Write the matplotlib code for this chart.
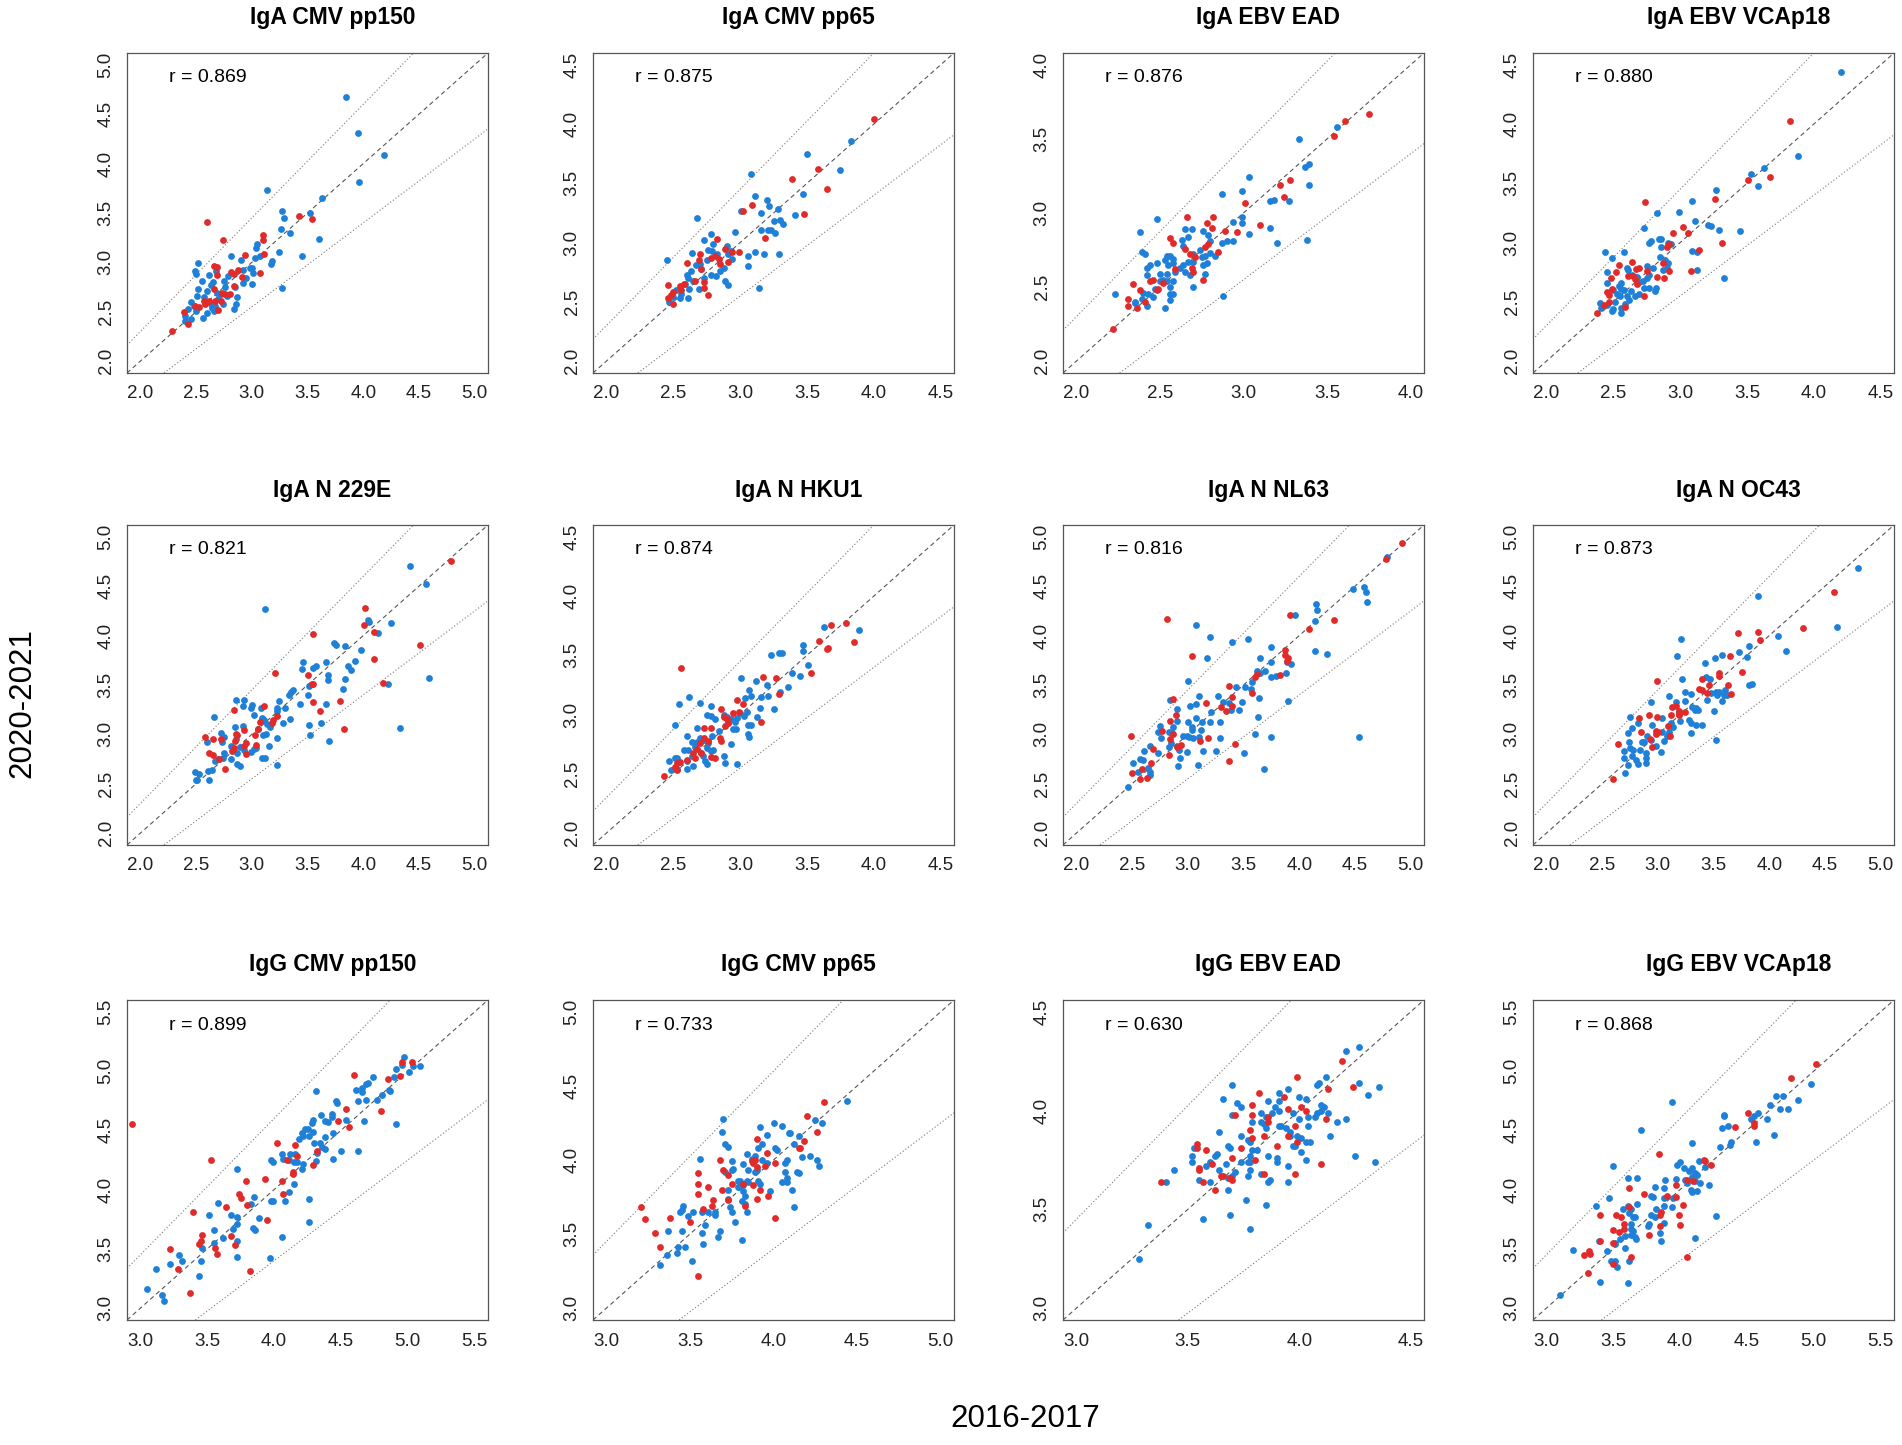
import numpy as np
import matplotlib
matplotlib.use("Agg")
import matplotlib.pyplot as plt

plt.rcParams['font.family'] = ['Liberation Sans', 'DejaVu Sans']

BLUE = '#1f80d8'
RED = '#e12a2a'

# panel titles, correlation labels, axis range (before R's 4% padding)
titles = ["IgA CMV pp150", "IgA CMV pp65", "IgA EBV EAD", "IgA EBV VCAp18",
          "IgA N 229E", "IgA N HKU1", "IgA N NL63", "IgA N OC43",
          "IgG CMV pp150", "IgG CMV pp65", "IgG EBV EAD", "IgG EBV VCAp18"]
r_values = [0.869, 0.875, 0.876, 0.880, 0.821, 0.874, 0.816, 0.873,
            0.899, 0.733, 0.630, 0.868]
axis_range = [(2.0, 5.0), (2.0, 4.5), (2.0, 4.0), (2.0, 4.5),
              (2.0, 5.0), (2.0, 4.5), (2.0, 5.0), (2.0, 5.0),
              (3.0, 5.5), (3.0, 5.0), (3.0, 4.5), (3.0, 5.5)]

# ---- IgA CMV pp150
p01_blue_x = [3.85, 3.95, 4.19, 3.96, 3.63, 3.14, 3.27, 3.29, 3.52, 3.34,
              3.26, 3.60, 3.24, 3.18, 3.17, 3.45, 3.27, 3.05, 3.04, 3.07,
              3.03, 3.00, 3.01, 2.98, 3.00, 2.92, 2.95, 2.90, 2.81, 2.92,
              2.85, 2.87, 2.86, 2.84, 2.79, 2.75, 2.52, 2.49, 2.50, 2.55,
              2.52, 2.62, 2.63, 2.60, 2.57, 2.51, 2.45, 2.48, 2.43, 2.40,
              2.40, 2.45, 2.50, 2.56, 2.60, 2.64, 2.67, 2.70, 2.72, 2.76,
              2.68, 2.65, 2.74, 2.66, 2.63, 2.78, 2.69]
p01_blue_y = [4.67, 4.31, 4.09, 3.81, 3.65, 3.73, 3.52, 3.45, 3.50, 3.30,
              3.34, 3.24, 3.11, 3.01, 2.98, 3.06, 2.74, 3.19, 3.15, 3.06,
              3.04, 2.94, 2.89, 2.94, 2.78, 2.92, 2.84, 3.02, 3.06, 2.79,
              2.75, 2.65, 2.58, 2.53, 2.86, 2.81, 2.99, 2.91, 2.88, 2.81,
              2.73, 2.87, 2.77, 2.71, 2.65, 2.66, 2.60, 2.56, 2.53, 2.46,
              2.41, 2.43, 2.51, 2.44, 2.49, 2.54, 2.56, 2.63, 2.68, 2.75,
              2.91, 2.80, 2.58, 2.51, 2.58, 2.66, 2.69]
p01_red_x = [2.28, 2.39, 2.43, 2.60, 2.74, 2.66, 2.69, 2.69, 2.66, 2.70,
             2.73, 2.72, 2.67, 2.57, 2.53, 2.49, 2.58, 2.62, 2.81, 2.84,
             2.88, 2.91, 2.80, 2.84, 2.94, 3.07, 3.10, 3.10, 3.11, 3.42,
             3.54, 2.76]
p01_red_y = [2.31, 2.50, 2.38, 3.41, 3.23, 2.96, 2.95, 2.87, 2.73, 2.52,
             2.69, 2.61, 2.61, 2.61, 2.55, 2.56, 2.58, 2.61, 2.90, 2.88,
             2.92, 2.85, 2.68, 2.76, 3.07, 2.89, 3.28, 3.23, 3.08, 3.47,
             3.44, 2.68]

# ---- IgA CMV pp65
p02_blue_x = [3.83, 3.50, 3.75, 3.47, 3.08, 3.11, 3.20, 3.22, 3.28, 3.16,
              3.41, 3.30, 3.32, 3.25, 3.23, 3.21, 3.16, 3.26, 3.01, 2.96,
              3.11, 3.18, 3.29, 3.06, 3.06, 3.14, 2.68, 2.45, 2.73, 2.78,
              2.80, 2.76, 2.79, 2.83, 2.90, 2.93, 2.94, 2.91, 2.88, 2.85,
              2.89, 2.91, 2.82, 2.78, 2.75, 2.71, 2.67, 2.64, 2.63, 2.60,
              2.61, 2.65, 2.69, 2.62, 2.61, 2.56, 2.55, 2.52, 2.50, 2.47,
              2.59, 2.73, 2.70]
p02_blue_y = [3.86, 3.75, 3.61, 3.41, 3.58, 3.39, 3.36, 3.31, 3.28, 3.25,
              3.23, 3.19, 3.16, 3.18, 3.11, 3.11, 3.11, 3.08, 3.27, 3.09,
              2.92, 2.90, 2.90, 2.89, 2.80, 2.62, 3.21, 2.85, 3.02, 3.07,
              2.99, 2.94, 2.93, 2.90, 2.97, 2.93, 2.86, 2.90, 2.79, 2.76,
              2.68, 2.64, 2.72, 2.73, 2.85, 2.78, 2.81, 2.91, 2.76, 2.73,
              2.70, 2.68, 2.61, 2.61, 2.53, 2.57, 2.53, 2.60, 2.54, 2.50,
              2.65, 2.70, 2.82]
p02_red_x = [4.00, 3.58, 3.39, 3.65, 3.48, 3.09, 3.02, 3.19, 2.99, 2.94,
             2.89, 2.83, 2.81, 2.78, 2.84, 2.91, 2.85, 2.70, 2.69, 2.60,
             2.71, 2.66, 2.73, 2.73, 2.76, 2.58, 2.55, 2.56, 2.50, 2.46,
             2.46, 2.48, 2.50]
p02_red_y = [4.04, 3.62, 3.54, 3.45, 3.24, 3.32, 3.27, 3.04, 2.92, 2.92,
             2.95, 3.03, 2.89, 2.87, 2.86, 2.84, 2.82, 2.90, 2.85, 2.83,
             2.78, 2.68, 2.67, 2.62, 2.56, 2.65, 2.63, 2.60, 2.58, 2.64,
             2.53, 2.56, 2.48]

# ---- IgA EBV EAD
p03_blue_x = [3.56, 3.33, 3.37, 3.39, 3.39, 3.38, 3.03, 2.99, 2.87, 3.27,
              3.16, 3.18, 3.16, 3.20, 2.99, 2.99, 2.94, 2.94, 2.90, 2.87,
              3.03, 2.88, 2.48, 2.38, 2.39, 2.41, 2.65, 2.69, 2.67, 2.63,
              2.64, 2.76, 2.79, 2.80, 2.74, 2.77, 2.75, 2.80, 2.83, 2.78,
              2.76, 2.77, 2.70, 2.70, 2.67, 2.64, 2.62, 2.65, 2.68, 2.70,
              2.59, 2.58, 2.56, 2.54, 2.53, 2.55, 2.58, 2.48, 2.44, 2.42,
              2.42, 2.40, 2.39, 2.43, 2.42, 2.35, 2.35, 2.46, 2.47, 2.50,
              2.52, 2.54, 2.54, 2.58, 2.56, 2.56, 2.58, 2.56, 2.53, 2.23,
              2.50]
p03_blue_y = [3.58, 3.50, 3.31, 3.33, 3.19, 2.82, 3.24, 3.15, 3.13, 3.08,
              3.08, 3.09, 2.90, 2.80, 2.97, 2.93, 2.94, 2.81, 2.81, 2.80,
              2.86, 2.44, 2.96, 2.87, 2.74, 2.72, 2.89, 2.89, 2.84, 2.82,
              2.78, 2.88, 2.85, 2.81, 2.75, 2.71, 2.70, 2.73, 2.71, 2.66,
              2.65, 2.59, 2.67, 2.72, 2.67, 2.65, 2.63, 2.60, 2.58, 2.50,
              2.60, 2.69, 2.71, 2.71, 2.68, 2.65, 2.66, 2.66, 2.65, 2.63,
              2.58, 2.46, 2.42, 2.45, 2.37, 2.40, 2.39, 2.43, 2.49, 2.59,
              2.55, 2.59, 2.54, 2.54, 2.50, 2.45, 2.45, 2.41, 2.36, 2.45,
              2.54]
p03_red_x = [2.22, 3.75, 3.61, 3.54, 3.28, 3.22, 3.24, 3.01, 3.10, 2.89,
             2.96, 2.82, 2.78, 2.81, 2.66, 2.56, 2.58, 2.65, 2.71, 2.68,
             2.79, 2.77, 2.85, 2.59, 2.69, 2.70, 2.76, 2.34, 2.38, 2.31,
             2.31, 2.36, 2.41, 2.44, 2.46, 2.48, 2.49, 2.52]
p03_red_y = [2.22, 3.67, 3.62, 3.52, 3.22, 3.19, 3.11, 3.07, 2.92, 2.88,
             2.87, 2.97, 2.93, 2.90, 2.97, 2.83, 2.80, 2.76, 2.70, 2.72,
             2.79, 2.77, 2.74, 2.62, 2.63, 2.60, 2.55, 2.52, 2.48, 2.42,
             2.37, 2.36, 2.40, 2.54, 2.55, 2.48, 2.49, 2.53]

# ---- IgA EBV VCAp18
p04_blue_x = [4.20, 3.88, 3.63, 3.53, 3.58, 3.27, 3.09, 3.11, 2.99, 2.83,
              2.73, 3.21, 3.23, 3.29, 3.45, 3.33, 3.09, 3.13, 3.13, 2.84,
              2.86, 2.77, 2.78, 2.86, 2.91, 2.93, 2.85, 2.89, 2.91, 2.90,
              2.87, 2.80, 2.75, 2.77, 2.75, 2.72, 2.73, 2.77, 2.82, 2.81,
              2.44, 2.58, 2.49, 2.45, 2.45, 2.56, 2.61, 2.60, 2.64, 2.68,
              2.69, 2.56, 2.54, 2.50, 2.53, 2.55, 2.58, 2.60, 2.63, 2.66,
              2.62, 2.59, 2.56, 2.51, 2.49, 2.50, 2.56, 2.40, 2.41, 2.45,
              2.69]
p04_blue_y = [4.44, 3.73, 3.63, 3.58, 3.48, 3.44, 3.35, 3.18, 3.26, 3.25,
              3.12, 3.15, 3.14, 3.11, 3.10, 2.70, 2.93, 2.92, 2.77, 3.03,
              3.03, 3.00, 3.01, 2.96, 3.00, 2.99, 2.88, 2.85, 2.83, 2.79,
              2.77, 2.79, 2.80, 2.73, 2.70, 2.68, 2.62, 2.62, 2.62, 2.59,
              2.92, 2.92, 2.87, 2.75, 2.66, 2.66, 2.77, 2.79, 2.73, 2.71,
              2.67, 2.61, 2.63, 2.60, 2.57, 2.55, 2.60, 2.55, 2.59, 2.55,
              2.52, 2.48, 2.45, 2.50, 2.42, 2.44, 2.41, 2.49, 2.45, 2.47,
              2.57]
p04_red_x = [3.82, 3.67, 3.51, 3.26, 2.74, 3.02, 2.95, 3.06, 3.31, 3.14,
             2.92, 2.90, 2.87, 2.92, 2.88, 2.83, 3.08, 2.64, 2.54, 2.69,
             2.67, 2.75, 2.65, 2.66, 2.68, 2.73, 2.61, 2.52, 2.48, 2.49,
             2.45, 2.47, 2.59, 2.47, 2.43, 2.38]
p04_red_y = [4.03, 3.55, 3.53, 3.37, 3.34, 3.13, 3.08, 3.08, 3.00, 2.94,
             2.99, 2.96, 2.83, 2.76, 2.70, 2.71, 2.76, 2.84, 2.81, 2.79,
             2.78, 2.76, 2.72, 2.69, 2.65, 2.55, 2.72, 2.75, 2.70, 2.61,
             2.58, 2.56, 2.46, 2.50, 2.47, 2.41]

# ---- IgA N 229E
p05_blue_x = [4.42, 4.56, 3.12, 4.25, 4.13, 4.04, 4.05, 4.59, 4.22, 4.33,
              3.74, 3.76, 3.84, 3.98, 3.93, 3.86, 3.89, 3.84, 3.82, 3.67,
              3.68, 3.68, 3.46, 3.45, 3.55, 3.58, 3.51, 3.50, 3.67, 3.62,
              3.69, 3.52, 3.51, 3.43, 3.37, 3.35, 3.33, 3.24, 3.23, 3.30,
              3.28, 3.34, 3.23, 3.23, 3.23, 3.00, 2.99, 3.02, 3.08, 3.09,
              3.11, 3.14, 3.16, 3.13, 3.10, 3.06, 3.15, 3.09, 3.12, 3.02,
              2.99, 3.04, 2.93, 2.92, 2.93, 2.86, 2.92, 2.85, 2.86, 2.81,
              2.87, 2.87, 2.89, 2.81, 2.75, 2.73, 2.75, 2.72, 2.66, 2.60,
              2.74, 2.70, 2.67, 2.64, 2.61, 2.62, 2.53, 2.49, 2.50, 2.51,
              2.89]
p05_blue_y = [4.70, 4.52, 4.27, 4.13, 4.03, 4.16, 4.14, 3.57, 3.51, 3.06,
              3.93, 3.90, 3.89, 3.85, 3.74, 3.69, 3.65, 3.56, 3.46, 3.73,
              3.60, 3.55, 3.73, 3.66, 3.67, 3.69, 3.49, 3.40, 3.31, 3.12,
              2.93, 2.99, 3.10, 3.31, 3.45, 3.43, 3.40, 3.34, 3.27, 3.27,
              3.12, 3.16, 3.24, 2.96, 2.69, 3.30, 3.27, 3.20, 3.27, 3.17,
              3.15, 3.11, 3.07, 3.00, 2.99, 3.05, 2.88, 2.76, 2.76, 2.85,
              2.82, 2.86, 2.84, 3.08, 3.35, 3.35, 3.29, 3.07, 2.95, 2.88,
              2.81, 2.70, 2.68, 2.75, 2.81, 2.92, 2.97, 3.01, 3.18, 2.92,
              2.76, 2.75, 2.73, 2.64, 2.63, 2.54, 2.60, 2.62, 2.54, 2.54,
              2.87]
p05_red_x = [4.79, 4.02, 4.01, 4.10, 4.10, 3.55, 4.51, 4.18, 3.83, 3.79,
             3.61, 3.55, 3.55, 3.54, 3.50, 3.21, 3.23, 3.19, 3.18, 3.11,
             3.07, 3.06, 3.03, 3.04, 2.95, 2.93, 2.95, 2.93, 2.84, 2.86,
             2.87, 2.85, 2.84, 2.82, 2.76, 2.72, 2.71, 2.65, 2.65, 2.62,
             2.58]
p05_red_y = [4.76, 4.28, 4.11, 4.04, 3.76, 4.02, 3.90, 3.52, 3.05, 3.34,
             3.24, 3.33, 3.51, 3.51, 3.60, 3.62, 3.19, 3.15, 3.12, 3.29,
             3.13, 3.05, 2.99, 2.89, 2.91, 2.88, 2.80, 3.04, 3.25, 3.00,
             2.99, 2.93, 2.86, 2.83, 2.65, 2.95, 2.75, 2.95, 2.79, 2.81,
             2.97]

# ---- IgA N HKU1
p06_blue_x = [3.89, 3.63, 3.47, 3.47, 3.51, 3.45, 3.39, 3.23, 3.29, 3.31,
              3.36, 3.30, 3.25, 3.20, 3.12, 3.21, 3.16, 3.15, 3.13, 3.07,
              3.08, 3.04, 3.01, 3.05, 3.03, 3.00, 3.06, 3.08, 3.06, 3.07,
              2.98, 2.96, 2.97, 2.95, 2.93, 2.98, 2.88, 2.90, 2.93, 2.91,
              2.84, 2.81, 2.78, 2.75, 2.78, 2.79, 2.80, 2.78, 2.75, 2.76,
              2.73, 2.70, 2.68, 2.66, 2.71, 2.72, 2.74, 2.75, 2.88, 2.89,
              2.68, 2.70, 2.62, 2.54, 2.51, 2.60, 2.64, 2.58, 2.61, 2.64,
              2.60, 2.60, 2.65, 2.53, 2.51, 2.47, 2.48, 2.53]
p06_blue_y = [3.71, 3.74, 3.59, 3.54, 3.42, 3.33, 3.35, 3.50, 3.52, 3.52,
              3.23, 3.19, 3.05, 3.25, 3.28, 3.16, 3.15, 3.06, 2.98, 3.21,
              3.16, 3.14, 3.31, 3.02, 2.99, 3.01, 2.91, 2.91, 2.84, 2.81,
              2.97, 2.94, 2.88, 2.88, 2.75, 2.58, 3.00, 2.98, 2.96, 2.93,
              2.86, 2.96, 3.07, 3.00, 2.99, 2.82, 2.70, 2.69, 2.72, 2.76,
              2.79, 2.80, 2.77, 2.73, 2.68, 2.65, 2.61, 2.58, 2.65, 2.59,
              2.89, 3.10, 3.15, 3.09, 2.91, 2.82, 2.77, 2.70, 2.70, 2.65,
              2.61, 2.54, 2.57, 2.63, 2.63, 2.61, 2.53, 2.54]
p06_red_x = [3.68, 3.79, 3.85, 3.59, 3.65, 3.66, 3.53, 3.17, 3.27, 3.29,
             3.16, 2.98, 3.02, 2.99, 2.95, 2.86, 2.88, 2.90, 2.91, 2.89,
             2.56, 2.73, 2.78, 2.86, 2.85, 2.76, 2.73, 2.70, 2.68, 2.65,
             2.66, 2.71, 2.78, 2.81, 2.60, 2.55, 2.53, 2.51, 2.53, 2.43]
p06_red_y = [3.76, 3.77, 3.61, 3.62, 3.55, 3.56, 3.35, 3.32, 3.31, 3.17,
             2.94, 3.12, 3.09, 3.02, 3.01, 3.05, 2.98, 2.96, 2.93, 2.90,
             3.39, 2.89, 2.89, 2.78, 2.80, 2.78, 2.80, 2.76, 2.71, 2.68,
             2.63, 2.68, 2.64, 2.63, 2.62, 2.60, 2.59, 2.56, 2.53, 2.48]

# ---- IgA N NL63
p07_blue_x = [3.96, 4.15, 4.16, 4.14, 4.48, 4.58, 4.60, 4.61, 4.79, 4.14,
              4.25, 4.54, 3.07, 3.20, 3.40, 3.54, 3.75, 3.65, 3.17, 3.00,
              3.75, 3.89, 3.93, 3.88, 3.69, 3.62, 3.65, 3.75, 3.79, 3.58,
              3.57, 3.51, 3.43, 3.46, 3.49, 3.64, 3.63, 3.60, 3.75, 3.68,
              3.50, 3.90, 3.37, 3.32, 3.27, 3.39, 3.21, 3.20, 3.29, 3.29,
              3.25, 3.14, 3.09, 3.10, 3.07, 3.02, 3.07, 3.00, 3.04, 3.04,
              2.99, 2.96, 3.01, 3.05, 3.10, 3.13, 3.12, 2.99, 2.84, 2.90,
              2.90, 2.87, 2.86, 2.83, 2.85, 2.83, 2.90, 2.93, 2.91, 2.92,
              2.75, 2.76, 2.73, 2.73, 2.66, 2.61, 2.57, 2.60, 2.51, 2.55,
              2.64, 2.66, 2.66, 2.46]
p07_blue_y = [4.21, 4.32, 4.26, 4.15, 4.47, 4.49, 4.44, 4.34, 4.80, 3.84,
              3.81, 2.97, 4.11, 3.99, 3.94, 3.97, 3.88, 3.77, 3.77, 3.54,
              3.73, 3.73, 3.71, 3.62, 3.64, 3.64, 3.62, 3.58, 3.59, 3.53,
              3.46, 3.48, 3.48, 3.25, 3.33, 3.37, 3.18, 3.00, 2.97, 2.65,
              2.81, 3.34, 3.32, 3.33, 3.39, 3.25, 3.23, 3.13, 3.13, 2.96,
              2.83, 2.83, 2.69, 3.39, 3.31, 3.29, 3.17, 3.13, 3.07, 3.04,
              2.98, 2.98, 2.97, 2.96, 2.97, 3.13, 3.04, 2.82, 3.35, 3.26,
              3.14, 3.07, 3.01, 3.02, 2.91, 2.87, 2.88, 2.76, 2.68, 2.84,
              3.08, 2.96, 3.02, 2.81, 2.88, 2.83, 2.75, 2.74, 2.71, 2.62,
              2.66, 2.62, 2.59, 2.47]
p07_red_x = [4.92, 4.78, 3.92, 4.31, 4.09, 2.81, 3.04, 3.87, 3.87, 3.90,
             3.89, 3.83, 3.62, 3.60, 3.58, 3.37, 3.40, 3.30, 3.34, 3.40,
             3.16, 3.18, 3.11, 3.42, 3.37, 2.87, 2.89, 2.84, 2.87, 2.84,
             2.94, 2.90, 2.83, 2.69, 2.77, 2.67, 2.49, 2.50, 2.59, 2.57,
             2.63]
p07_red_y = [4.94, 4.78, 4.21, 4.16, 4.07, 4.17, 3.79, 3.85, 3.80, 3.77,
             3.74, 3.60, 3.61, 3.58, 3.42, 3.49, 3.38, 3.28, 3.24, 3.29,
             3.32, 2.96, 2.93, 2.90, 2.73, 3.36, 3.20, 3.14, 3.00, 2.95,
             2.89, 2.87, 2.79, 2.85, 3.03, 2.71, 2.98, 2.61, 2.65, 2.55,
             2.56]

# ---- IgA N OC43
p08_blue_x = [4.80, 3.90, 4.61, 4.08, 4.15, 3.21, 3.17, 3.82, 3.73, 3.80,
              3.51, 3.58, 3.42, 3.82, 3.85, 3.43, 3.47, 3.48, 3.52, 3.55,
              3.59, 3.60, 3.62, 3.58, 3.53, 3.44, 3.50, 3.52, 3.22, 3.24,
              3.24, 3.30, 3.34, 3.31, 3.36, 3.33, 3.28, 3.30, 3.34, 3.40,
              3.30, 3.16, 3.19, 3.20, 3.10, 3.12, 3.14, 3.10, 3.08, 3.04,
              3.06, 3.03, 2.94, 3.04, 2.95, 2.90, 2.86, 2.88, 2.89, 2.89,
              2.89, 2.94, 2.98, 2.75, 2.82, 2.77, 2.73, 2.74, 2.75, 2.78,
              2.84, 2.70, 2.70, 2.77, 2.80, 2.82, 2.73, 2.71]
p08_blue_y = [4.68, 4.40, 4.09, 4.00, 3.84, 3.97, 3.79, 3.89, 3.83, 3.78,
              3.77, 3.80, 3.72, 3.50, 3.51, 3.58, 3.56, 3.42, 3.43, 3.43,
              3.40, 3.45, 3.40, 3.34, 3.40, 3.35, 3.24, 2.94, 3.56, 3.43,
              3.34, 3.41, 3.27, 3.28, 3.25, 3.25, 3.15, 3.12, 3.09, 3.09,
              3.01, 3.33, 3.23, 3.14, 3.39, 3.12, 3.07, 3.02, 2.98, 3.02,
              2.93, 2.82, 3.33, 3.17, 3.09, 2.98, 2.92, 2.92, 2.81, 2.76,
              2.71, 2.94, 2.88, 3.18, 3.12, 3.06, 3.01, 2.92, 2.86, 2.84,
              2.84, 2.83, 2.76, 2.78, 2.74, 2.70, 2.69, 2.61]
p08_red_x = [4.58, 4.30, 3.90, 3.72, 3.92, 3.65, 3.76, 3.55, 3.55, 3.63,
             3.66, 3.46, 3.44, 3.40, 3.40, 3.37, 2.99, 3.16, 3.13, 3.19,
             3.24, 3.19, 3.12, 3.19, 3.09, 3.11, 2.99, 2.92, 2.83, 2.98,
             3.00, 2.98, 2.93, 2.95, 2.85, 2.64, 2.60]
p08_red_y = [4.44, 4.08, 4.04, 4.03, 3.96, 3.79, 3.63, 3.62, 3.59, 3.50,
             3.41, 3.50, 3.42, 3.56, 3.45, 3.46, 3.54, 3.29, 3.28, 3.24,
             3.23, 3.21, 3.20, 3.20, 3.08, 2.98, 3.18, 3.20, 3.17, 3.03,
             3.02, 3.00, 2.95, 2.87, 3.02, 2.90, 2.55]

# ---- IgG CMV pp150
p09_blue_x = [4.97, 4.96, 4.91, 5.09, 5.04, 5.01, 4.90, 4.74, 4.70, 4.69,
              4.66, 4.66, 4.69, 4.63, 4.61, 4.77, 4.81, 4.86, 4.87, 4.31,
              4.46, 4.47, 4.91, 4.67, 4.54, 4.63, 4.50, 4.43, 4.43, 4.38,
              4.40, 4.35, 4.29, 4.28, 4.29, 4.25, 4.23, 4.21, 4.26, 4.30,
              4.34, 4.36, 4.38, 4.44, 4.44, 4.38, 4.31, 4.32, 4.22, 4.19,
              4.16, 4.12, 4.11, 4.15, 4.17, 4.22, 4.21, 4.15, 4.11, 4.06,
              4.07, 3.98, 3.99, 4.08, 3.98, 3.99, 4.26, 4.26, 4.06, 3.97,
              3.85, 3.83, 3.89, 3.84, 3.86, 3.72, 3.68, 3.72, 3.72, 3.69,
              3.72, 3.72, 3.62, 3.58, 3.51, 3.55, 3.55, 3.46, 3.45, 3.44,
              3.29, 3.31, 3.22, 3.12, 3.05, 3.16, 3.18]
p09_blue_y = [5.12, 5.05, 5.02, 5.04, 5.04, 4.99, 4.95, 4.95, 4.90, 4.89,
              4.86, 4.82, 4.76, 4.75, 4.84, 4.76, 4.80, 4.84, 4.83, 4.83,
              4.75, 4.73, 4.55, 4.58, 4.59, 4.33, 4.33, 4.64, 4.61, 4.58,
              4.57, 4.63, 4.59, 4.56, 4.49, 4.51, 4.51, 4.48, 4.45, 4.39,
              4.39, 4.36, 4.34, 4.26, 4.48, 4.44, 4.24, 4.31, 4.45, 4.43,
              4.30, 4.30, 4.25, 4.23, 4.23, 4.22, 4.17, 4.05, 3.98, 4.30,
              4.26, 4.25, 4.23, 3.90, 3.90, 3.90, 3.92, 3.73, 3.60, 3.42,
              3.94, 3.88, 3.76, 3.68, 3.66, 4.17, 3.79, 3.77, 3.71, 3.67,
              3.57, 3.43, 3.59, 3.89, 3.79, 3.66, 3.55, 3.51, 3.40, 3.27,
              3.45, 3.40, 3.37, 3.33, 3.16, 3.11, 3.06]
p09_red_x = [2.94, 5.03, 4.96, 4.94, 4.85, 4.60, 4.54, 4.56, 4.80, 4.48,
             4.16, 4.02, 4.10, 4.17, 4.14, 4.14, 4.29, 4.32, 4.06, 3.93,
             4.07, 3.79, 3.80, 3.74, 3.75, 3.64, 3.95, 3.68, 3.71, 3.82,
             3.53, 3.39, 3.46, 3.45, 3.44, 3.56, 3.57, 3.22, 3.28, 3.37]
p09_red_y = [4.55, 5.08, 5.08, 4.96, 4.93, 4.97, 4.68, 4.53, 4.66, 4.58,
             4.38, 4.39, 4.25, 4.28, 4.13, 4.15, 4.21, 4.33, 4.07, 4.09,
             3.96, 4.07, 3.87, 3.96, 3.93, 3.85, 3.74, 3.61, 3.53, 3.31,
             4.25, 3.81, 3.62, 3.57, 3.54, 3.51, 3.46, 3.50, 3.33, 3.13]

# ---- IgG CMV pp65
p10_blue_x = [4.44, 4.25, 4.29, 3.70, 3.69, 3.71, 3.73, 3.56, 4.00, 4.05,
              4.09, 4.10, 4.15, 3.92, 3.96, 3.93, 3.91, 4.01, 4.02, 4.12,
              4.22, 4.17, 4.26, 4.27, 4.08, 4.07, 4.07, 4.08, 4.05, 4.08,
              4.14, 4.15, 4.11, 4.12, 3.98, 3.91, 3.90, 3.84, 3.87, 3.89,
              3.93, 3.96, 3.82, 3.85, 3.89, 3.92, 3.79, 3.80, 3.82, 3.84,
              3.85, 3.79, 3.82, 3.83, 3.81, 3.83, 3.84, 3.81, 3.77, 3.76,
              3.75, 3.75, 3.71, 3.73, 3.73, 3.74, 3.75, 3.68, 3.67, 3.65,
              3.65, 3.61, 3.59, 3.58, 3.57, 3.57, 3.46, 3.45, 3.44, 3.49,
              3.52, 3.45, 3.37, 3.47, 3.43, 3.42, 3.51, 3.36, 3.32]
p10_blue_y = [4.40, 4.27, 4.25, 4.28, 4.19, 4.11, 4.09, 4.01, 4.25, 4.23,
              4.18, 4.18, 4.16, 4.22, 4.17, 4.11, 4.08, 4.08, 4.07, 4.11,
              4.03, 4.02, 4.00, 3.96, 4.00, 3.98, 3.92, 3.88, 3.85, 3.85,
              3.92, 3.91, 3.80, 3.68, 3.79, 3.86, 3.93, 4.04, 4.01, 4.03,
              4.00, 3.98, 3.97, 3.93, 3.92, 3.84, 3.86, 3.86, 3.83, 3.86,
              3.85, 3.82, 3.79, 3.76, 3.72, 3.70, 3.65, 3.46, 3.58, 3.94,
              3.99, 3.93, 3.92, 3.80, 3.74, 3.68, 3.65, 3.52, 3.48, 3.65,
              3.63, 3.65, 3.56, 3.43, 3.65, 3.51, 3.69, 3.66, 3.65, 3.62,
              3.65, 3.52, 3.52, 3.41, 3.41, 3.37, 3.32, 3.36, 3.29]
p10_red_x = [4.30, 4.20, 4.26, 4.18, 4.15, 4.16, 3.90, 3.96, 3.87, 3.88,
             3.89, 3.90, 3.95, 4.01, 3.68, 3.70, 3.73, 3.75, 3.82, 3.88,
             3.92, 3.97, 3.90, 3.83, 4.01, 3.69, 3.73, 3.55, 3.55, 3.61,
             3.55, 3.64, 3.63, 3.58, 3.50, 3.38, 3.21, 3.23, 3.29, 3.32,
             3.55]
p10_red_y = [4.39, 4.30, 4.19, 4.13, 4.08, 4.08, 4.14, 4.05, 3.99, 3.98,
             4.00, 3.95, 3.96, 3.98, 4.00, 3.93, 3.90, 3.84, 3.84, 3.83,
             3.80, 3.76, 3.74, 3.69, 3.61, 3.80, 3.73, 3.91, 3.84, 3.82,
             3.77, 3.73, 3.69, 3.67, 3.58, 3.61, 3.68, 3.60, 3.51, 3.41,
             3.22]

# ---- IgG EBV EAD
p11_blue_x = [4.21, 4.27, 4.36, 4.27, 4.31, 4.12, 4.09, 4.08, 4.10, 4.11,
              4.10, 4.08, 4.13, 4.17, 4.14, 4.25, 4.34, 3.95, 3.91, 4.00,
              4.03, 3.91, 3.86, 3.89, 3.91, 3.88, 3.83, 3.85, 3.83, 3.79,
              3.84, 3.85, 3.91, 3.92, 3.94, 3.96, 3.96, 3.97, 4.00, 4.04,
              4.04, 3.99, 4.01, 4.03, 4.05, 3.97, 3.98, 4.01, 4.03, 3.95,
              3.95, 3.86, 3.90, 3.90, 3.86, 3.87, 3.85, 3.83, 3.81, 3.79,
              3.77, 3.78, 3.74, 3.78, 3.77, 3.74, 3.78, 3.78, 3.77, 3.76,
              3.78, 3.70, 3.66, 3.72, 3.74, 3.70, 3.68, 3.69, 3.67, 3.64,
              3.71, 3.70, 3.68, 3.68, 3.69, 3.63, 3.62, 3.64, 3.60, 3.58,
              3.60, 3.57, 3.53, 3.52, 3.52, 3.55, 3.44, 3.40, 3.32, 3.28,
              4.21, 4.07]
p11_blue_y = [4.30, 4.32, 4.12, 4.14, 4.08, 4.17, 4.14, 4.13, 4.03, 4.02,
              4.00, 3.99, 3.99, 3.94, 3.87, 3.77, 3.74, 4.11, 4.09, 4.07,
              4.06, 4.05, 4.05, 4.02, 4.00, 3.99, 3.99, 3.97, 3.94, 3.94,
              3.93, 3.91, 3.92, 3.92, 3.91, 3.89, 3.87, 3.99, 3.96, 3.97,
              3.92, 3.87, 3.86, 3.84, 3.84, 3.82, 3.82, 3.79, 3.75, 3.72,
              3.64, 3.77, 3.76, 3.74, 3.64, 3.65, 3.52, 3.68, 3.80, 3.80,
              3.85, 3.84, 3.87, 3.77, 3.74, 3.74, 3.74, 3.70, 3.67, 3.55,
              3.40, 4.13, 4.06, 4.04, 4.02, 3.98, 3.82, 3.81, 3.73, 3.70,
              3.69, 3.67, 3.66, 3.60, 3.47, 3.78, 3.77, 3.89, 3.74, 3.72,
              3.64, 3.45, 3.81, 3.77, 3.74, 3.65, 3.70, 3.64, 3.42, 3.25,
              3.96, 3.97]
p11_red_x = [4.19, 4.24, 3.99, 4.13, 3.82, 3.93, 4.01, 4.03, 3.95, 3.79,
             3.71, 3.79, 3.86, 4.12, 3.86, 3.98, 3.78, 3.95, 3.84, 3.79,
             3.99, 3.90, 3.74, 3.80, 3.70, 4.10, 3.98, 3.84, 3.58, 3.54,
             3.54, 3.61, 3.55, 3.55, 3.65, 3.66, 3.69, 3.70, 3.57, 3.62,
             3.38]
p11_red_y = [4.25, 4.12, 4.17, 4.11, 4.09, 4.07, 4.02, 4.00, 4.01, 4.03,
             3.98, 3.98, 3.97, 3.96, 3.94, 3.92, 3.90, 3.87, 3.87, 3.86,
             3.84, 3.82, 3.81, 3.75, 3.76, 3.73, 3.68, 3.68, 3.80, 3.83,
             3.81, 3.73, 3.71, 3.70, 3.67, 3.67, 3.66, 3.65, 3.64, 3.60,
             3.64]

# ---- IgG EBV VCAp18
p12_blue_x = [4.98, 4.88, 4.77, 4.72, 4.67, 4.75, 4.81, 4.65, 4.70, 4.58,
              4.55, 4.53, 4.57, 3.94, 4.33, 4.33, 4.31, 4.36, 4.30, 4.37,
              4.38, 4.09, 3.71, 3.50, 3.98, 4.00, 4.03, 4.09, 4.14, 4.19,
              4.11, 4.13, 4.07, 4.09, 4.04, 4.05, 4.11, 4.15, 4.13, 4.08,
              4.09, 4.22, 4.27, 4.11, 3.97, 3.89, 3.88, 3.81, 3.78, 3.80,
              3.88, 3.95, 3.94, 3.88, 3.82, 3.78, 3.81, 3.77, 3.76, 3.88,
              3.85, 3.86, 3.61, 3.68, 3.68, 3.61, 3.57, 3.63, 3.62, 3.65,
              3.66, 3.63, 3.63, 3.65, 3.63, 3.66, 3.67, 3.59, 3.55, 3.59,
              3.51, 3.37, 3.47, 3.39, 3.45, 3.48, 3.51, 3.53, 3.62, 3.20,
              3.40, 3.61, 3.10, 3.51]
p12_blue_y = [4.89, 4.76, 4.79, 4.79, 4.71, 4.68, 4.68, 4.60, 4.46, 4.65,
              4.62, 4.60, 4.40, 4.74, 4.63, 4.62, 4.52, 4.54, 4.36, 4.38,
              4.40, 4.39, 4.50, 4.20, 4.21, 4.23, 4.18, 4.18, 4.24, 4.19,
              4.14, 4.12, 4.16, 4.11, 4.08, 4.06, 4.07, 4.06, 3.99, 4.00,
              3.98, 4.04, 3.78, 3.59, 4.09, 4.08, 4.01, 4.02, 3.95, 3.94,
              3.93, 3.93, 3.85, 3.86, 3.84, 3.79, 3.77, 3.71, 3.69, 3.72,
              3.63, 3.57, 4.10, 4.10, 3.88, 3.86, 3.84, 3.84, 3.80, 3.77,
              3.77, 3.71, 3.67, 3.65, 3.62, 3.60, 3.58, 3.61, 3.58, 3.51,
              3.55, 3.86, 3.93, 3.57, 3.48, 3.40, 3.40, 3.35, 3.40, 3.49,
              3.22, 3.21, 3.11, 3.54]
p12_red_x = [5.02, 4.83, 4.51, 4.55, 4.55, 4.41, 4.23, 4.18, 4.19, 3.84,
             4.05, 4.10, 3.97, 3.90, 3.97, 4.02, 3.99, 4.00, 4.05, 3.73,
             3.86, 3.85, 3.85, 3.77, 3.62, 3.62, 3.56, 3.58, 3.58, 3.52,
             3.40, 3.50, 3.54, 3.50, 3.50, 3.63, 3.40, 3.32, 3.33, 3.28,
             3.31]
p12_red_y = [5.06, 4.94, 4.65, 4.56, 4.54, 4.53, 4.21, 4.25, 4.24, 4.30,
             4.08, 4.07, 4.04, 3.95, 3.94, 3.87, 3.79, 3.70, 3.43, 3.96,
             3.81, 3.79, 3.69, 3.62, 4.01, 3.85, 3.77, 3.71, 3.67, 3.79,
             3.79, 3.66, 3.64, 3.55, 3.37, 3.43, 3.57, 3.48, 3.46, 3.45,
             3.30]

blue_series = [(p01_blue_x, p01_blue_y), (p02_blue_x, p02_blue_y), (p03_blue_x, p03_blue_y),
               (p04_blue_x, p04_blue_y), (p05_blue_x, p05_blue_y), (p06_blue_x, p06_blue_y),
               (p07_blue_x, p07_blue_y), (p08_blue_x, p08_blue_y), (p09_blue_x, p09_blue_y),
               (p10_blue_x, p10_blue_y), (p11_blue_x, p11_blue_y), (p12_blue_x, p12_blue_y)]
red_series = [(p01_red_x, p01_red_y), (p02_red_x, p02_red_y), (p03_red_x, p03_red_y),
              (p04_red_x, p04_red_y), (p05_red_x, p05_red_y), (p06_red_x, p06_red_y),
              (p07_red_x, p07_red_y), (p08_red_x, p08_red_y), (p09_red_x, p09_red_y),
              (p10_red_x, p10_red_y), (p11_red_x, p11_red_y), (p12_red_x, p12_red_y)]

# layout in pixels of the 1902x1445 canvas
W, H = 1902, 1445
col_left = [127, 593, 1063, 1533]
row_top = [53, 525, 1000]
box_w, box_h = 361, 320

fig = plt.figure(figsize=(W / 100, H / 100), dpi=100)

for i in range(12):
    r, c = divmod(i, 4)
    ax = fig.add_axes([col_left[c] / W, 1 - (row_top[r] + box_h) / H, box_w / W, box_h / H])
    lo, hi = axis_range[i]
    pad = 0.04 * (hi - lo)
    ax.set_xlim(lo - pad, hi + pad)
    ax.set_ylim(lo - pad, hi + pad)

    # identity line and +/-15% bands
    ax.axline((0, 0), slope=1.0, color='#555555', lw=0.8, ls=(0, (4, 3)), zorder=1)
    ax.axline((0, 0), slope=1.15, color='#777777', lw=0.8, ls=(0, (1, 2)), zorder=1)
    ax.axline((0, 0), slope=0.85, color='#777777', lw=0.8, ls=(0, (1, 2)), zorder=1)

    bx, by = blue_series[i]
    rx, ry = red_series[i]
    ax.scatter(bx, by, s=24, color=BLUE, linewidths=0, zorder=3)
    ax.scatter(rx, ry, s=24, color=RED, linewidths=0, zorder=3)

    ticks = np.arange(lo, hi + 0.001, 0.5)
    ax.set_xticks(ticks)
    ax.set_xticklabels([f"{t:.1f}" for t in ticks])
    ax.set_yticks(ticks)
    ax.set_yticklabels([f"{t:.1f}" for t in ticks], rotation=90, va='center')
    ax.tick_params(length=0, labelsize=13.5, pad=9, colors='#222222')

    for sp in ax.spines.values():
        sp.set_color('#555555')
        sp.set_linewidth(0.9)

    ax.text(0.116, 1 - 25 / box_h, f"r = {r_values[i]:.3f}", transform=ax.transAxes,
            fontsize=14, ha='left', va='center')
    ax.text(0.569, 1 + 35 / box_h, titles[i], transform=ax.transAxes,
            fontsize=16.5, fontweight='bold', ha='center', va='center')

fig.text(1025 / W, 1 - 1419 / H, "2016-2017", fontsize=22.5, ha='center', va='center')
fig.text(22 / W, 1 - 703 / H, "2020-2021", fontsize=22.5, rotation=90, ha='center', va='center')

fig.savefig("out.png", dpi=100)
